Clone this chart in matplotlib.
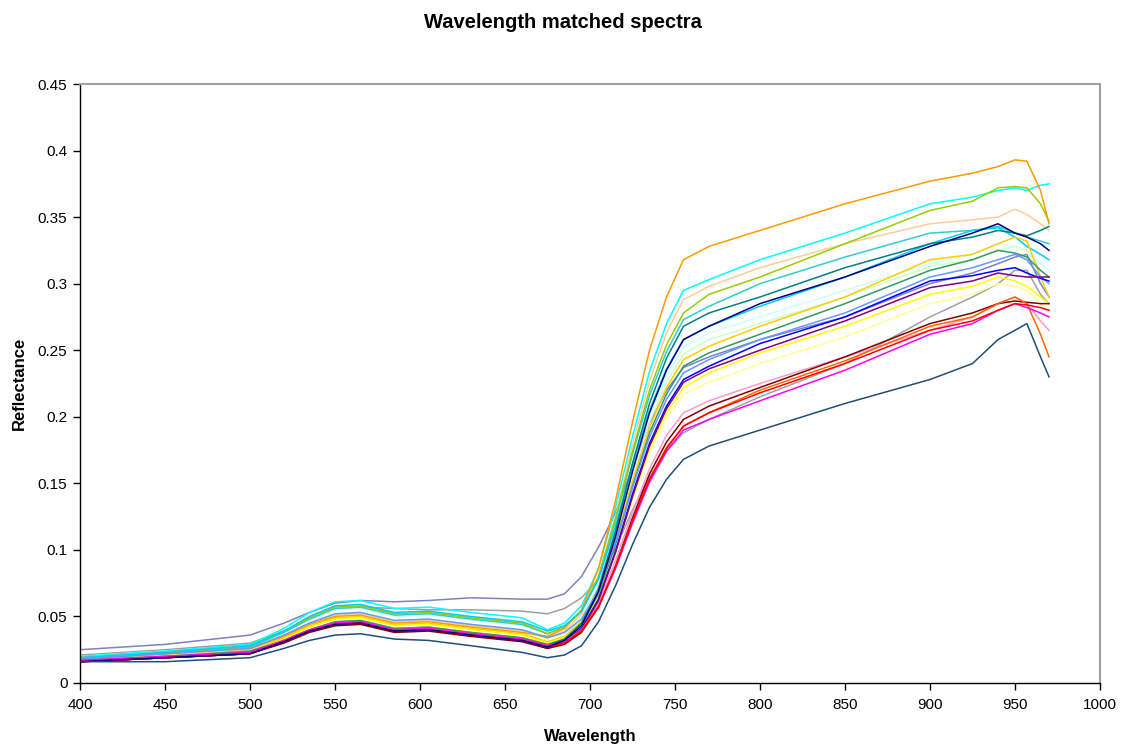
import matplotlib
matplotlib.use("Agg")
import matplotlib.pyplot as plt

plt.rcParams['font.family'] = ['Liberation Sans', 'DejaVu Sans']

wavelength = [400, 450, 500, 520, 535, 550, 565, 585, 605, 630, 660, 675,
              685, 695, 705, 715, 725, 735, 745, 755,
              770, 800, 850, 900, 925, 940, 950, 957, 965, 970]

orange      = [.019, .022, .026, .035, .044, .050, .051, .045, .046, .042, .038, .035,
               .041, .055, .086, .137, .196, .250, .290, .318,
               .328, .340, .360, .377, .383, .388, .393, .392, .370, .345]
cyan        = [.020, .024, .029, .041, .053, .061, .062, .056, .057, .053, .049, .040,
               .045, .058, .086, .132, .185, .234, .270, .295,
               .303, .318, .338, .360, .365, .370, .372, .370, .374, .375]
yellowgreen = [.019, .023, .028, .039, .049, .057, .058, .052, .053, .049, .045, .037,
               .042, .054, .080, .124, .174, .220, .254, .278,
               .292, .305, .330, .355, .362, .372, .373, .372, .360, .347]
peach       = [.018, .021, .025, .035, .045, .051, .052, .046, .047, .043, .039, .034,
               .039, .052, .080, .125, .179, .227, .263, .288,
               .298, .312, .330, .345, .348, .350, .356, .352, .345, .340]
turquoise   = [.018, .022, .027, .038, .048, .056, .057, .051, .052, .048, .044, .037,
               .042, .054, .079, .122, .172, .216, .249, .273,
               .283, .300, .320, .338, .340, .343, .338, .335, .332, .330]
teal        = [.016, .019, .023, .031, .039, .045, .046, .040, .041, .037, .033, .028,
               .033, .045, .071, .114, .165, .210, .244, .268,
               .278, .290, .312, .330, .335, .340, .338, .336, .340, .343]
navy        = [.016, .019, .022, .031, .039, .044, .045, .039, .040, .036, .032, .027,
               .032, .043, .069, .110, .159, .203, .235, .258,
               .268, .285, .305, .328, .338, .345, .338, .335, .330, .325]
skyblue     = [.019, .023, .028, .039, .050, .058, .059, .053, .054, .050, .046, .039,
               .043, .054, .078, .118, .164, .205, .236, .258,
               .268, .283, .305, .330, .340, .342, .335, .328, .322, .318]
lightcyan   = [.020, .024, .028, .038, .048, .055, .056, .050, .051, .047, .043, .038,
               .042, .053, .077, .115, .160, .201, .231, .252,
               .263, .275, .295, .315, .322, .330, .328, .325, .315, .310]
palegreen   = [.018, .022, .026, .036, .045, .052, .053, .047, .048, .044, .040, .035,
               .039, .050, .073, .111, .156, .196, .226, .247,
               .258, .270, .290, .313, .318, .325, .328, .325, .310, .305]
gold        = [.017, .020, .024, .034, .043, .049, .050, .044, .045, .041, .037, .031,
               .035, .046, .069, .107, .152, .192, .222, .243,
               .253, .268, .290, .318, .322, .330, .335, .332, .305, .290]
seagreen    = [.017, .020, .024, .032, .040, .046, .047, .041, .042, .038, .034, .029,
               .033, .044, .067, .104, .148, .188, .217, .238,
               .248, .262, .285, .310, .318, .325, .323, .320, .310, .305]
slate       = [.025, .029, .036, .045, .053, .060, .062, .061, .062, .064, .063, .063,
               .067, .080, .102, .128, .162, .195, .220, .237,
               .245, .258, .275, .300, .308, .315, .320, .322, .300, .290]
blue        = [.016, .019, .022, .031, .039, .044, .045, .039, .040, .036, .032, .027,
               .031, .041, .063, .099, .142, .180, .208, .228,
               .238, .255, .275, .302, .306, .310, .312, .308, .304, .302]
cornflower  = [.018, .022, .026, .036, .045, .052, .053, .047, .048, .044, .040, .034,
               .038, .048, .070, .106, .147, .185, .213, .233,
               .243, .258, .278, .305, .312, .318, .322, .318, .305, .300]
purple      = [.016, .019, .022, .031, .039, .044, .045, .039, .040, .036, .032, .026,
               .030, .040, .062, .098, .140, .178, .206, .226,
               .236, .250, .272, .297, .302, .308, .306, .305, .305, .305]
yellow      = [.017, .020, .024, .033, .042, .048, .049, .043, .044, .040, .036, .030,
               .034, .043, .065, .099, .139, .176, .203, .222,
               .233, .248, .268, .292, .298, .305, .302, .298, .290, .285]
lightyellow = [.018, .021, .025, .035, .044, .050, .051, .045, .046, .042, .038, .033,
               .037, .046, .066, .099, .138, .173, .199, .217,
               .226, .240, .260, .285, .292, .300, .298, .295, .285, .280]
gray        = [.021, .025, .030, .039, .048, .055, .057, .056, .055, .055, .054, .052,
               .056, .064, .078, .101, .130, .155, .174, .188,
               .198, .215, .240, .275, .290, .300, .310, .310, .292, .285]
pink        = [.017, .020, .024, .032, .040, .046, .047, .041, .042, .038, .034, .029,
               .032, .041, .060, .092, .128, .161, .186, .203,
               .212, .225, .245, .265, .275, .285, .290, .285, .272, .265]
maroon      = [.016, .019, .022, .030, .038, .043, .044, .038, .039, .035, .031, .026,
               .029, .038, .057, .088, .124, .157, .181, .198,
               .208, .222, .245, .270, .278, .285, .287, .286, .285, .285]
orangered   = [.016, .019, .023, .031, .039, .045, .046, .040, .041, .037, .033, .028,
               .031, .040, .058, .087, .122, .153, .177, .193,
               .203, .220, .242, .268, .275, .285, .290, .285, .262, .245]
red         = [.016, .019, .022, .031, .039, .044, .045, .039, .040, .036, .032, .027,
               .030, .039, .057, .087, .122, .153, .176, .193,
               .203, .218, .240, .265, .272, .280, .285, .284, .282, .280]
magenta     = [.017, .020, .023, .032, .040, .045, .046, .040, .041, .037, .033, .028,
               .031, .039, .057, .086, .120, .151, .174, .190,
               .198, .212, .235, .262, .270, .280, .285, .282, .278, .275]
darksteel   = [.016, .016, .019, .026, .032, .036, .037, .033, .032, .028, .023, .019,
               .021, .028, .046, .073, .104, .132, .153, .168,
               .178, .190, .210, .228, .240, .258, .265, .270, .245, .230]

series = [
    (slate, '#8080C0'), (gray, '#A0A0A0'), (lightyellow, '#FFFF99'), (lightcyan, '#CCFFFF'),
    (palegreen, '#CCFFCC'), (peach, '#FFCC99'), (pink, '#FF99CC'), (turquoise, '#33CCCC'),
    (cyan, '#00FFFF'), (yellowgreen, '#99CC00'), (orange, '#FF9900'), (skyblue, '#00CCFF'),
    (gold, '#FFCC00'), (yellow, '#FFFF00'), (seagreen, '#339966'), (teal, '#008080'),
    (cornflower, '#6699FF'), (blue, '#0000FF'), (purple, '#800080'), (maroon, '#800000'),
    (orangered, '#FF6600'), (magenta, '#FF00FF'), (red, '#FF0000'), (navy, '#000080'),
    (darksteel, '#1F4E79'),
]

x_ticks = [400, 450, 500, 550, 600, 650, 700, 750, 800, 850, 900, 950, 1000]
y_ticks = [0, 0.05, 0.1, 0.15, 0.2, 0.25, 0.3, 0.35, 0.4, 0.45]
y_tick_labels = ['0', '0.05', '0.1', '0.15', '0.2', '0.25', '0.3', '0.35', '0.4', '0.45']

fig = plt.figure(figsize=(11.26, 7.47), dpi=100)
ax = fig.add_axes([80/1126, 1 - 683/747, 1020/1126, 599/747])

for vals, col in series:
    ax.plot(wavelength, vals, color=col, lw=1.1, solid_joinstyle='round')

ax.set_xlim(400, 1000)
ax.set_ylim(0, 0.45)
ax.set_xticks(x_ticks)
ax.set_xticklabels([str(t) for t in x_ticks])
ax.set_yticks(y_ticks)
ax.set_yticklabels(y_tick_labels)
ax.tick_params(direction='out', length=5, width=1, labelsize=11, colors='black')
ax.tick_params(axis='x', pad=6)
ax.tick_params(axis='y', pad=4)

for side in ['left', 'bottom']:
    ax.spines[side].set_color('black')
    ax.spines[side].set_linewidth(1)
for side in ['top', 'right']:
    ax.spines[side].set_color('#A0A0A0')
    ax.spines[side].set_linewidth(1.5)

ax.set_xlabel('Wavelength', fontsize=12, fontweight='bold', labelpad=12)
ax.set_ylabel('Reflectance', fontsize=12, fontweight='bold', labelpad=8)
fig.text(0.5, 1 - 22/747, 'Wavelength matched spectra', ha='center', va='center',
         fontsize=14.5, fontweight='bold')

fig.savefig('out.png', dpi=100)
